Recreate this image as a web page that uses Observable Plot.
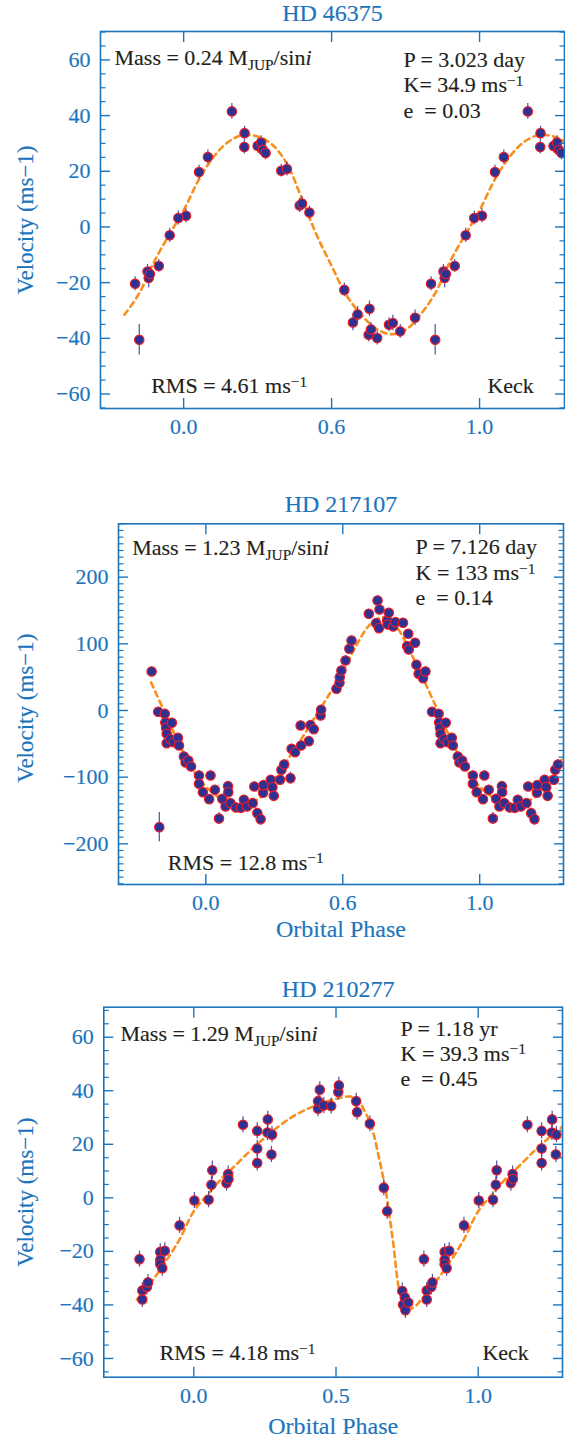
<!DOCTYPE html>
<html><head><meta charset="utf-8">
<script src="https://cdn.jsdelivr.net/npm/d3@7"></script>
<script src="https://cdn.jsdelivr.net/npm/@observablehq/plot@0.6"></script>
<style>
html,body{margin:0;padding:0;background:#fff;}
#chart{width:565px;}
#chart svg{display:block;font-family:'Liberation Serif','Times New Roman',Times,serif !important;}
#chart svg text, #chart svg tspan{font-family:'Liberation Serif','Times New Roman',Times,serif !important;}
</style></head><body><div id="chart"></div>
<script>
// ---------- DATA ----------
// HD 46375 (phase-folded, base phases in [0,1))
const p1Phase = [0.008,0.052,0.082,0.163,0.205,0.206,0.250,0.262,0.268,0.277,0.330,0.349,0.392,0.400,0.425,0.543,0.572,0.588,0.625,0.628,0.633,0.654,0.694,0.707,0.732,0.782,0.836,0.850,0.878,0.882,0.886,0.916,0.953,0.982];
const p1Vel   = [4.0,19.7,25.1,41.5,28.7,33.7,29.1,30.3,27.6,26.6,20.2,20.8,7.7,8.4,5.2,-22.6,-34.3,-31.4,-38.7,-29.4,-36.8,-39.9,-35.1,-34.5,-37.5,-32.6,-20.4,-40.5,-16.0,-18.3,-16.9,-14.0,-3.0,3.2];
const p1Err   = [2.5,2.5,2.5,2.8,2.5,2.5,2.5,2.5,2.5,2.5,2.3,2.5,2.5,2.5,2.3,2.5,3.0,2.8,2.5,2.8,2.5,2.5,2.5,2.8,2.5,2.8,2.5,5.5,2.5,3.5,2.5,2.3,2.5,2.5];
const p1FitPhase = [0,0.05,0.10,0.15,0.20,0.25,0.30,0.35,0.40,0.45,0.50,0.55,0.60,0.65,0.70,0.75,0.80,0.85,0.90,0.95];
const p1FitVel   = [6.0,16.7,25.0,30.5,33.0,32.5,29.5,22.5,10.0,-3.0,-14.0,-24.5,-31.5,-36.5,-38.5,-37.0,-31.5,-23.8,-12.5,-3.0];

// HD 217107
const p2Phase = [0.012,0.017,0.033,0.048,0.060,0.072,0.081,0.082,0.090,0.110,0.128,0.139,0.150,0.171,0.177,0.188,0.200,0.209,0.210,0.237,0.243,0.248,0.271,0.276,0.286,0.309,0.313,0.326,0.346,0.348,0.376,0.382,0.394,0.419,0.421,0.477,0.488,0.489,0.495,0.510,0.524,0.532,0.595,0.622,0.627,0.632,0.634,0.662,0.664,0.668,0.684,0.692,0.720,0.735,0.739,0.741,0.764,0.769,0.777,0.793,0.802,0.826,0.850,0.852,0.855,0.857,0.857,0.870,0.876,0.883,0.898,0.902,0.920,0.926,0.936,0.946,0.975,0.975,0.989];
const p2Vel   = [-133,-97.5,-119,-162,-132.5,-144,-113.5,-122.5,-139,-145.5,-146,-134,-144,-139,-114,-154,-163,-123.5,-112,-104,-115,-128,-104,-89,-81,-101.5,-57.5,-62.5,-22.5,-52.5,-46,-22,-28,-7.5,1,32.5,41.5,50,60,75,92.5,105,145,131,165,123.5,151.5,135,129,146.5,126,132.5,131.5,96.5,115,91.5,101.5,68.5,55,48.5,58.5,-2,-5,-18,-26,-35,-49,-43,-18.5,-47.5,-41,-52.5,-69,-78,-75,-84,-97.5,-110,-122.5];
const p2Err   = [7,7,7,9,7,7,7,7,7,7,7,7,7,7,7,7,9,7,7,7,7,7,7,7,7,9,7,7,7,7,7,7,7,7,7,7,7,7,7,7,7,7,7,7,7,7,7,7,7,7,7,7,7,7,7,7,7,7,7,7,7,7,7,7,7,7,7,7,7,7,7,7,7,7,7,7,7,7,7];
const p2ExtraPhase = [-0.17];
const p2ExtraVel   = [-175];
const p2ExtraErr   = [22];
const p2FitPhase = [0,0.05,0.10,0.15,0.20,0.25,0.30,0.35,0.40,0.45,0.50,0.55,0.60,0.65,0.70,0.75,0.80,0.85,0.90,0.95];
const p2FitVel   = [-114,-131,-140,-140,-130,-104,-73,-42,-9,24,58,98,129,140,123,85,42,-3,-48,-88];

// HD 210277
const p3Phase = [0.002,0.052,0.062,0.065,0.115,0.121,0.122,0.173,0.223,0.223,0.223,0.259,0.260,0.273,0.275,0.437,0.437,0.443,0.457,0.483,0.508,0.510,0.571,0.574,0.619,0.668,0.680,0.733,0.736,0.742,0.744,0.754,0.809,0.819,0.819,0.835,0.839,0.882,0.882,0.882,0.889,0.898,0.950];
const p3Vel   = [-1.0,-0.7,4.9,10.3,5.5,8.9,7.0,27.3,13.0,18.4,25.0,24.4,29.3,16.2,23.6,33.3,36.1,40.4,34.5,34.3,39.5,42.0,36.1,32.0,27.7,3.8,-5.0,-34.8,-39.9,-37.2,-42.0,-39.1,-22.9,-34.6,-38.0,-33.3,-31.6,-20.2,-23.2,-24.8,-26.3,-19.8,-10.3];
const p3Err   = [3,3,3,3.5,3,3,3,3,3,3,3,3,3,3,3,3,3,3,3,3,3,3,3,3,3,3,3,3,3,3,3,3,3,3,3,3,3,3,3,3,3,3,3];
const p3FitPhase = [0,0.05,0.10,0.15,0.20,0.25,0.30,0.35,0.40,0.45,0.50,0.55,0.575,0.60,0.625,0.65,0.675,0.70,0.725,0.75,0.775,0.80,0.85,0.90,0.95];
const p3FitVel   = [-5.0,1.4,7.5,12.5,17.8,22.5,26.8,30.5,33.2,35.3,37.0,37.8,36.8,32.5,26.5,15.5,2.5,-16.0,-35.5,-41.5,-40.8,-38.0,-31.5,-24.0,-15.5];

// ticks and labels
const xTickValues = [0, 0.5, 1];
const xTickLabelsA = ["0.0", "0.6", "1.0"];
const xTickLabelsB = ["0.0", "0.5", "1.0"];
const yMajor1 = [-60,-40,-20,0,20,40,60];
const yMinor1 = [-65,-55,-50,-45,-35,-30,-25,-15,-10,-5,5,10,15,25,30,35,45,50,55,65,70];
const yMajor2 = [-200,-100,0,100,200];
const yMinor2 = d3.range(-260, 281, 10).filter(v => v % 100 !== 0);
const yMinor3 = [-65,-55,-50,-45,-35,-30,-25,-15,-10,-5,5,10,15,25,30,35,45,50,55,65,70];

// texts
const titles = ["HD 46375", "HD 217107", "HD 210277"];
const massTexts = ["Mass = 0.24 M_{JUP}/sin*{i}", "Mass = 1.23 M_{JUP}/sin*{i}", "Mass = 1.29 M_{JUP}/sin*{i}"];
const orbitTexts = [
  ["P = 3.023 day", "K= 34.9 ms^{−1}", "e  = 0.03"],
  ["P = 7.126 day", "K = 133 ms^{−1}", "e  = 0.14"],
  ["P = 1.18 yr", "K = 39.3 ms^{−1}", "e  = 0.45"]
];
const rmsTexts = ["RMS = 4.61 ms^{−1}", "RMS = 12.8 ms^{−1}", "RMS = 4.18 ms^{−1}"];
const yLabel = "Velocity (ms−1)";
const xLabel = "Orbital Phase";

// ---------- STYLE ----------
const FONT = "Liberation Serif";
const BLUE = "#1c75bc", INK = "#231f20", NAVY = "#2e3192", RED = "#ed1c24", ORANGE = "#f7901e";

function fold(phase, vel, err, lo, hi) {
  const rows = [];
  phase.forEach((p, i) => {
    for (const k of [-1, 0, 1]) {
      const q = p + k;
      if (q >= lo - 1e-6 && q <= hi + 1e-6) rows.push({phase: q, v: vel[i], err: err[i]});
    }
  });
  return rows;
}
function foldFit(phase, vel, lo, hi) {
  const rows = [];
  phase.forEach((p, i) => {
    for (const k of [-1, 0, 1, 2]) {
      const q = p + k;
      if (q >= lo - 1e-6 && q <= hi + 0.08) rows.push({phase: q, v: vel[i]});
    }
  });
  return rows.sort((a, b) => a.phase - b.phase);
}

function panel(c) {
  const pts = fold(c.phase, c.vel, c.err, c.lo, c.hi)
    .concat((c.extraPhase || []).map((p, i) => ({phase: p, v: c.extraVel[i], err: c.extraErr[i]})));
  const fit = foldFit(c.fitPhase, c.fitVel, c.lo, c.hi);
  const fmt = d => c.xLabels[xTickValues.indexOf(d)];
  const T = (txt, o) => Plot.text([txt], {text: d => d, fill: INK, fontSize: 22, fontFamily: FONT, lineAnchor: "bottom", textAnchor: "start", ...o});
  const marks = [
    Plot.line(fit, {x: "phase", y: "v", curve: "catmull-rom", stroke: ORANGE, strokeWidth: 2.6, strokeDasharray: "5.5,4.5", clip: true}),
    Plot.ruleX(pts, {x: "phase", y1: d => d.v - d.err, y2: d => d.v + d.err, stroke: NAVY, strokeWidth: 1.2, strokeOpacity: 0.85}),
    Plot.dot(pts, {x: "phase", y: "v", r: 4.7, fill: NAVY, stroke: RED, strokeWidth: 1.2}),
    Plot.frame({stroke: BLUE, strokeWidth: 1.6}),
    // x axis labels + ticks
    Plot.axisX({anchor: "bottom", ticks: xTickValues, tickSize: 0, tickPadding: 10, tickFormat: fmt, label: null, fontSize: 22, fontFamily: FONT, color: BLUE}),
    Plot.axisX({anchor: "bottom", ticks: xTickValues, tickSize: -10, tickFormat: () => "", label: null, stroke: BLUE, strokeWidth: 1.4}),
    Plot.axisX({anchor: "top", ticks: xTickValues, tickSize: -10, tickFormat: () => "", label: null, stroke: BLUE, strokeWidth: 1.4}),
    // y axis labels + ticks
    Plot.axisY({anchor: "left", ticks: c.yMajor, tickSize: 0, tickPadding: 10, label: null, fontSize: 22, fontFamily: FONT, color: BLUE}),
    Plot.axisY({anchor: "left", ticks: c.yMajor, tickSize: -10, tickFormat: () => "", label: null, stroke: BLUE, strokeWidth: 1.4}),
    Plot.axisY({anchor: "left", ticks: c.yMinor, tickSize: -5.5, tickFormat: () => "", label: null, stroke: BLUE, strokeWidth: 1.2}),
    Plot.axisY({anchor: "right", ticks: c.yMajor, tickSize: -10, tickFormat: () => "", label: null, stroke: BLUE, strokeWidth: 1.4}),
    Plot.axisY({anchor: "right", ticks: c.yMinor, tickSize: -5.5, tickFormat: () => "", label: null, stroke: BLUE, strokeWidth: 1.2}),
    // title & labels
    Plot.text([c.title], {text: d => d, frameAnchor: "top", dx: c.titleDx || 0, dy: c.titleDy, lineAnchor: "bottom", textAnchor: "middle", fill: BLUE, fontSize: 24, fontFamily: FONT}),
    Plot.text([yLabel], {text: d => d, frameAnchor: "left", dx: c.yLabelDx, dy: c.yLabelDy || 0, rotate: -90, textAnchor: "middle", lineAnchor: "middle", fill: BLUE, fontSize: 23, fontFamily: FONT}),
    T(c.mass, {frameAnchor: "top-left", dx: c.massDx, dy: c.massDy}),
    T(c.orbit[0], {frameAnchor: "top-left", dx: c.orbDx, dy: c.orbDy[0]}),
    T(c.orbit[1], {frameAnchor: "top-left", dx: c.orbDx, dy: c.orbDy[1]}),
    T(c.orbit[2], {frameAnchor: "top-left", dx: c.orbDx, dy: c.orbDy[2]}),
    T(c.rms, {frameAnchor: "bottom-left", dx: c.rmsDx, dy: c.rmsDy})
  ];
  if (c.keck) marks.push(T("Keck", {frameAnchor: "bottom-right", dx: c.keckDx, dy: c.rmsDy, textAnchor: "end"}));
  if (c.xLabelDy) marks.push(Plot.text([xLabel], {text: d => d, frameAnchor: "bottom", dy: c.xLabelDy, lineAnchor: "bottom", textAnchor: "middle", fill: BLUE, fontSize: 24, fontFamily: FONT}));
  return Plot.plot({
    width: 565, height: c.height,
    marginTop: c.mt, marginBottom: c.mb, marginLeft: c.ml, marginRight: c.mr,
    x: {domain: c.xDomain, label: null},
    y: {domain: c.yDomain, label: null},
    style: {"font-family": "'Liberation Serif', serif", background: "white", color: INK, overflow: "visible"},
    marks
  });
}

const panels = [
  {phase: p1Phase, vel: p1Vel, err: p1Err, fitPhase: p1FitPhase, fitVel: p1FitVel, lo: -0.2, hi: 1.3,
   height: 460, mt: 31, mb: 52, ml: 100, mr: 1, xDomain: [-0.281, 1.287], yDomain: [-65.2, 70.2],
   yMajor: yMajor1, yMinor: yMinor1, xLabels: xTickLabelsA, title: titles[0], titleDy: -10.3, yLabelDx: -74.5,
   mass: massTexts[0], massDx: 14, massDy: 33, orbit: orbitTexts[0], orbDx: 303, orbDy: [35.7, 60.7, 86],
   rms: rmsTexts[0], rmsDx: 50.7, rmsDy: -15.3, keck: true, keckDx: -30.7},
  {phase: p2Phase, vel: p2Vel, err: p2Err, extraPhase: p2ExtraPhase, extraVel: p2ExtraVel, extraErr: p2ExtraErr,
   fitPhase: p2FitPhase, fitVel: p2FitVel, lo: -0.2, hi: 1.3,
   height: 485, mt: 63.3, mb: 61, ml: 118, mr: 2, xDomain: [-0.319, 1.306], yDomain: [-261, 280],
   yMajor: yMajor2, yMinor: yMinor2, xLabels: xTickLabelsA, title: titles[1], titleDy: -11.6, yLabelDx: -93, yLabelDy: 4,
   mass: massTexts[1], massDx: 13.7, massDy: 30.7, orbit: orbitTexts[1], orbDx: 297, orbDy: [30, 56, 81],
   rms: rmsTexts[1], rmsDx: 49.3, rmsDy: -15, keck: false, xLabelDy: 52.7},
  {phase: p3Phase, vel: p3Vel, err: p3Err, fitPhase: p3FitPhase, fitVel: p3FitVel, lo: -0.2, hi: 1.3,
   height: 492, mt: 61.7, mb: 60.3, ml: 103.3, mr: 3, xDomain: [-0.3165, 1.2964], yDomain: [-67, 71.2],
   yMajor: yMajor1, yMinor: yMinor3, xLabels: xTickLabelsB, title: titles[2], titleDy: -10, titleDx: 5, yLabelDx: -78.3,
   mass: massTexts[2], massDx: 16.7, massDy: 33.3, orbit: orbitTexts[2], orbDx: 296.7, orbDy: [28.3, 53.3, 78.3],
   rms: rmsTexts[2], rmsDx: 55.7, rmsDy: -17.4, keck: true, keckDx: -33.7, xLabelDy: 56.3}
];

const root = document.getElementById("chart");
const NS = "http://www.w3.org/2000/svg";
function richify(svg) {
  svg.querySelectorAll("text").forEach(t => {
    const fill = getComputedStyle(t).fill;
    if (fill && fill !== "none") { t.style.stroke = fill; t.style.strokeWidth = "0.15px"; }
    if (t.children.length) return;
    const s = t.textContent;
    if (!/[\^_*]\{/.test(s)) return;
    const fs = parseFloat(getComputedStyle(t).fontSize) || 20;
    const re = /([\^_*])\{([^}]*)\}/g;
    const parts = []; let last = 0, m;
    while ((m = re.exec(s))) {
      if (m.index > last) parts.push({k: "n", s: s.slice(last, m.index)});
      parts.push({k: m[1], s: m[2]});
      last = re.lastIndex;
    }
    if (last < s.length) parts.push({k: "n", s: s.slice(last)});
    t.textContent = "";
    let cur = 0;
    for (const p of parts) {
      const ts = document.createElementNS(NS, "tspan");
      ts.textContent = p.s;
      const target = p.k === "^" ? -0.28 * fs : p.k === "_" ? 0.24 * fs : 0;
      if (target !== cur) ts.setAttribute("dy", (target - cur) + "px");
      cur = target;
      if (p.k === "^" || p.k === "_") ts.setAttribute("font-size", (0.7 * fs) + "px");
      if (p.k === "*") ts.setAttribute("font-style", "italic");
      t.appendChild(ts);
    }
  });
}
for (const c of panels) {
  const svg = panel(c);
  root.appendChild(svg);
  richify(svg);
}
</script></body></html>
